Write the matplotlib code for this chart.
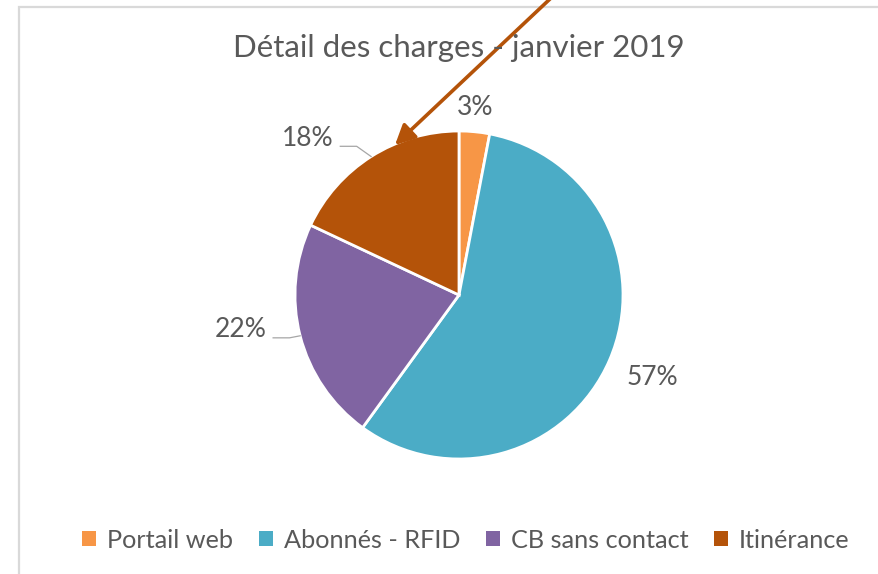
import numpy as np
import matplotlib
from matplotlib import pyplot as plt
from matplotlib.patches import Rectangle

matplotlib.rcParams['font.family'] = ['Lato', 'DejaVu Sans']

categories = ['Portail web', 'Abonnés - RFID', 'CB sans contact', 'Itinérance']
shares = [3, 57, 22, 18]
colors = ['#F79646', '#4BACC6', '#8064A2', '#B45309']
title = 'Détail des charges - janvier 2019'

# label placement (radius in pie units, angle in degrees), set by eye
label_pos = [(1.15, 85.0), (1.28, -23.0), (1.35, 189.0), (1.33, 134.0)]
leader = [False, False, True, True]

TEXT = '#595959'
W, H = 879, 574


def fx(px):
    return px / W


def fy(py):
    return 1 - py / H


fig = plt.figure(figsize=(W / 100, H / 100), dpi=100)

# chart frame (light gray border top and left)
fig.patches.append(Rectangle((fx(19), fy(600)), fx(900), fy(7) - fy(600),
                             transform=fig.transFigure, fill=False,
                             edgecolor='#D9D9D9', linewidth=1.6))

ax = fig.add_axes([fx(295), fy(459), fx(328), 328 / H])
wedges, _ = ax.pie(shares, colors=colors, startangle=90, counterclock=False,
                   wedgeprops=dict(edgecolor='white', linewidth=2))
ax.set_xlim(-1, 1)
ax.set_ylim(-1, 1)
ax.set_aspect('equal')
ax.axis('off')

total = sum(shares)
start = 90.0
for i, v in enumerate(shares):
    sweep = 360.0 * v / total
    mid = np.radians(start - sweep / 2)
    start -= sweep
    r, a = label_pos[i]
    a = np.radians(a)
    lx, ly = r * np.cos(a), r * np.sin(a)
    ax.text(lx, ly, f'{v}%', ha='center', va='center', fontsize=19,
            color=TEXT)
    if leader[i]:
        ex, ey = np.cos(mid), np.sin(mid)
        x0 = lx + 0.2
        ax.plot([x0, x0 + 0.1, ex], [ly - 0.05, ly - 0.05, ey],
                color='#A6A6A6', linewidth=0.9, clip_on=False)

fig.text(fx(459), fy(48), title, ha='center', va='center', fontsize=22.5,
         color=TEXT)

leg = fig.legend(wedges, categories, loc='center', ncol=4,
                 bbox_to_anchor=(fx(466), fy(540)), frameon=False,
                 fontsize=18.2, handlelength=0.55, handleheight=0.55,
                 handletextpad=0.45, columnspacing=1.0)
for t in leg.get_texts():
    t.set_color(TEXT)
for h in leg.legend_handles:
    h.set_edgecolor('none')

# annotation arrow coming from above the chart
fig.patches.append(matplotlib.patches.FancyArrowPatch(
    (fx(551), fy(-2)), (fx(395), fy(145)), transform=fig.transFigure,
    arrowstyle='-|>,head_length=12,head_width=6', color='#B45309',
    linewidth=2.6, shrinkA=0, shrinkB=0))

fig.savefig('out.png', dpi=100)
